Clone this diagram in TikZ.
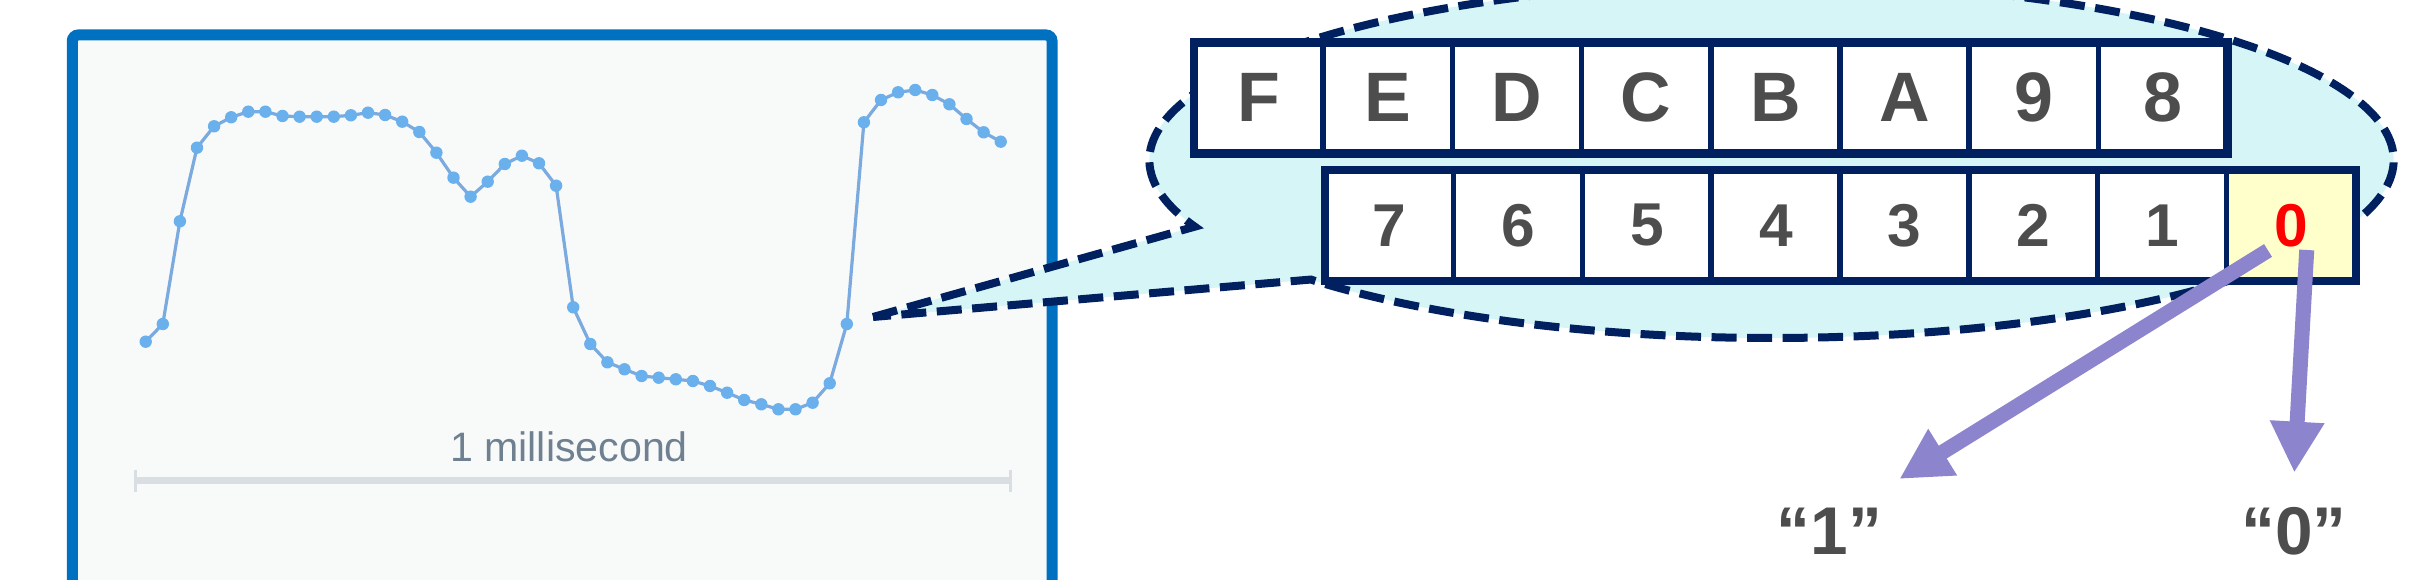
\documentclass[tikz,border=0pt]{standalone}
\usepackage{fontspec}
\setmainfont{Liberation Sans}
\usetikzlibrary{arrows.meta}

\definecolor{panelblue}{HTML}{0070C0}
\definecolor{panelbg}{HTML}{F8FAFA}
\definecolor{wavedot}{HTML}{6AB0EC}
\definecolor{waveline}{HTML}{7BAADF}
\definecolor{scalegray}{HTML}{D9DEE3}
\definecolor{scaletext}{HTML}{6F8090}
\definecolor{navy}{HTML}{002060}
\definecolor{bubblefill}{HTML}{D6F5F7}
\definecolor{bitfill}{HTML}{FFFFCC}
\definecolor{arrowpurple}{HTML}{8C84CD}
\definecolor{digitgray}{HTML}{4D4D4D}

\tikzset{
  cell/.style={draw=navy, fill=white, line width=0.55mm, inner sep=0pt, outer sep=0pt,
    minimum width=12.92mm, minimum height=11.1mm, text=digitgray},
  hifont/.style={font=\bfseries\fontsize{19.9}{24}\selectfont},
  lofont/.style={font=\bfseries\fontsize{17.2}{21}\selectfont},
  rowframe/.style={draw=navy, line width=0.85mm},
  bubble/.style={draw=navy, fill=bubblefill, line width=0.8mm, dash pattern=on 2.5mm off 1.05mm},
  bitarrow/.style={draw=arrowpurple, line width=1.5mm, -{Triangle[length=5.1mm, width=5.1mm]}},
  bitlabel/.style={text=digitgray, inner sep=0pt, font=\bfseries\fontsize{19.2}{23}\selectfont}
}

\begin{document}
\begin{tikzpicture}[x=0.01cm, y=-0.01cm, line join=miter]

  \useasboundingbox (0,0) rectangle (2422,580);
  \clip (0,0) rectangle (2422,580);

  % ── Scope panel ──────────────────────────────────────────────────────────────

  \draw[draw=panelblue, fill=panelbg, line width=1.1mm, rounded corners=0.6mm]
    (72.3,35) rectangle (1052,640);

  % Samples
  \foreach \y [count=\i from 0] in {341.7,324,221.3,147.7,126.3,117.3,111.7,111.7,116,116.7,
      116.7,116.7,115.3,112.7,115,121.7,132,152.7,177.7,196.7,181.7,164,155.7,163.3,185.7,
      307.3,344,362.3,369.3,376,377.7,379.3,381,386,392.7,400,404.3,409.3,409.3,402.7,
      383.3,324,122.3,100,92.3,90,95,104.3,119,132.3,141.7}
    \coordinate (w\i) at ({145.7+17.1*\i},\y);

  \draw[waveline, line width=0.32mm] (w0) \foreach \i in {1,...,50} { -- (w\i) };
  \foreach \i in {0,...,50}
    \fill[wavedot] (w\i) circle[radius=0.62mm];

  % Time scale
  \draw[scalegray, line width=0.7mm] (135.5,480.5) -- (1010.5,480.5);
  \foreach \xt in {135.5,1010.5}
    \draw[scalegray, line width=0.3mm] (\xt,470) -- (\xt,492);
  \node[text=scaletext, anchor=base, inner sep=0pt, font=\fontsize{11.7}{14}\selectfont]
    (scale) at (569,461.7) {1 millisecond};

  % ── Callout ──────────────────────────────────────────────────────────────────

  \coordinate (bubC) at (1771.5,160);
  \coordinate (tailTip) at (873,317);
  \path (bubC) ++(158:622 and 178) coordinate (tailTop);
  \filldraw[bubble] (tailTip) -- (tailTop)
    arc[start angle=158, end angle=497.8, x radius=622, y radius=178] -- cycle;

  % Upper byte
  \foreach \lbl [count=\i from 0] in {F,E,D,C,B,A,9,8}
    \node[cell, hifont] (b\lbl) at ({1258.6+129.2*\i},97.8) {\lbl};
  \draw[rowframe] (bF.north west) rectangle (b8.south east);

  % Lower byte
  \foreach \lbl [count=\i from 0] in {7,6,5,4,3,2,1}
    \node[cell, lofont] (b\lbl) at ({1389.4+128.8*\i},225.3) {\lbl};
  \node[cell, lofont, fill=bitfill, text=red] (b0) at (2291.1,225.3) {0};
  \draw[rowframe] (b7.north west) rectangle (b0.south east);

  % ── Bit values ───────────────────────────────────────────────────────────────

  \node[bitlabel, anchor=base] (one)  at (1829.5,555) {“1”};
  \node[bitlabel, anchor=base] (zero) at (2294,555)   {“0”};

  \coordinate (from1) at (2268,250.5);
  \coordinate (to1)   at (1899.3,479);
  \coordinate (from0) at (2306.7,250);
  \coordinate (to0)   at (2294.3,472.7);
  \draw[bitarrow] (from1) -- (to1);
  \draw[bitarrow] (from0) -- (to0);

\end{tikzpicture}
\end{document}
